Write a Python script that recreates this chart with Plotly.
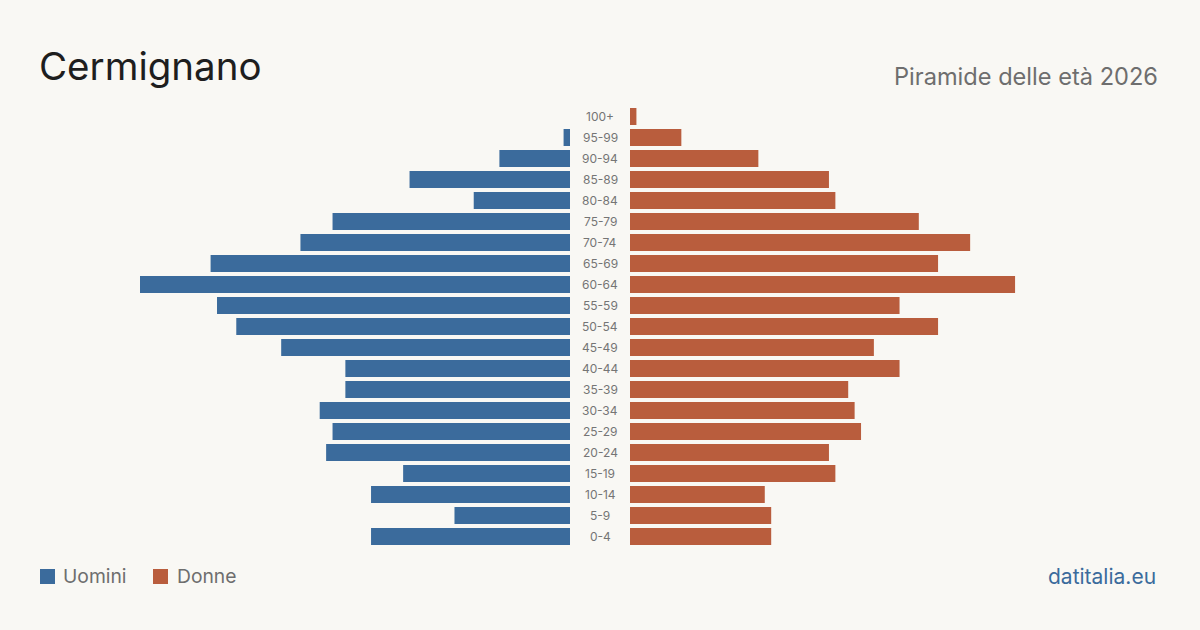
import plotly.graph_objects as go

age_groups = ["0-4", "5-9", "10-14", "15-19", "20-24", "25-29", "30-34", "35-39",
              "40-44", "45-49", "50-54", "55-59", "60-64", "65-69", "70-74", "75-79",
              "80-84", "85-89", "90-94", "95-99", "100+"]
men = [31, 18, 31, 26, 38, 37, 39, 35, 35, 45, 52, 55, 67, 56, 42, 37, 15, 25, 11, 1, 0]
women = [22, 22, 21, 32, 31, 36, 35, 34, 42, 38, 48, 42, 60, 48, 53, 45, 32, 31, 20, 8, 1]

title = "Cermignano"
subtitle = "Piramide delle età 2026"
source = "datitalia.eu"
men_label = "Uomini"
women_label = "Donne"

BLUE = "#3b6b9c"
ORANGE = "#b95d3d"
BG = "#f9f8f4"
FONT = "Inter, 'Open Sans', sans-serif"
W, H = 1200, 630

xmax = max(max(men), max(women))

fig = go.Figure()
fig.add_trace(go.Bar(y=age_groups, x=men, orientation="h", marker_color=BLUE,
                     marker_line_width=0,
                     xaxis="x", yaxis="y", name=men_label, showlegend=False,
                     hoverinfo="x+y"))
fig.add_trace(go.Bar(y=age_groups, x=women, orientation="h", marker_color=ORANGE,
                     marker_line_width=0,
                     xaxis="x2", yaxis="y", name=women_label, showlegend=False,
                     hoverinfo="x+y"))

annotations = []
for g in age_groups:
    annotations.append(dict(x=0.5, xref="paper", y=g, yref="y", text=g,
                            showarrow=False, xanchor="center", yanchor="middle",
                            font=dict(family=FONT, size=12, color="#757575")))

annotations += [
    dict(x=37 / W, y=1 - 66 / H, xref="paper", yref="paper", text=title,
         showarrow=False, xanchor="left", yanchor="middle",
         font=dict(family=FONT, size=38.5, color="#1e1e1e")),
    dict(x=1160 / W, y=1 - 76 / H, xref="paper", yref="paper", text=subtitle,
         showarrow=False, xanchor="right", yanchor="middle",
         font=dict(family=FONT, size=23.6, color="#6e6e6e")),
    dict(x=1158 / W, y=1 - 576 / H, xref="paper", yref="paper", text=source,
         showarrow=False, xanchor="right", yanchor="middle",
         font=dict(family=FONT, size=21, color=BLUE)),
    dict(x=61 / W, y=1 - 576 / H, xref="paper", yref="paper", text=men_label,
         showarrow=False, xanchor="left", yanchor="middle",
         font=dict(family=FONT, size=19.3, color="#6e6e6e")),
    dict(x=175 / W, y=1 - 576 / H, xref="paper", yref="paper", text=women_label,
         showarrow=False, xanchor="left", yanchor="middle",
         font=dict(family=FONT, size=19.3, color="#6e6e6e")),
]

shapes = [
    dict(type="rect", xref="paper", yref="paper", x0=40 / W, x1=55 / W,
         y0=1 - 584 / H, y1=1 - 569 / H, fillcolor=BLUE, line_width=0),
    dict(type="rect", xref="paper", yref="paper", x0=153 / W, x1=168 / W,
         y0=1 - 584 / H, y1=1 - 569 / H, fillcolor=ORANGE, line_width=0),
]

fig.update_layout(
    width=W, height=H,
    margin=dict(l=0, r=0, t=0, b=0),
    paper_bgcolor=BG, plot_bgcolor=BG,
    bargap=4 / 21,
    xaxis=dict(domain=[140 / W, 570 / W], range=[xmax, 0], visible=False, fixedrange=True),
    xaxis2=dict(domain=[630 / W, 1060 / W], range=[0, xmax], visible=False, fixedrange=True),
    yaxis=dict(domain=[1 - 547 / H, 1 - 106 / H], categoryorder="array",
               categoryarray=age_groups, visible=False, fixedrange=True),
    annotations=annotations,
    shapes=shapes,
    font=dict(family=FONT),
)

fig.write_html("out.html")
